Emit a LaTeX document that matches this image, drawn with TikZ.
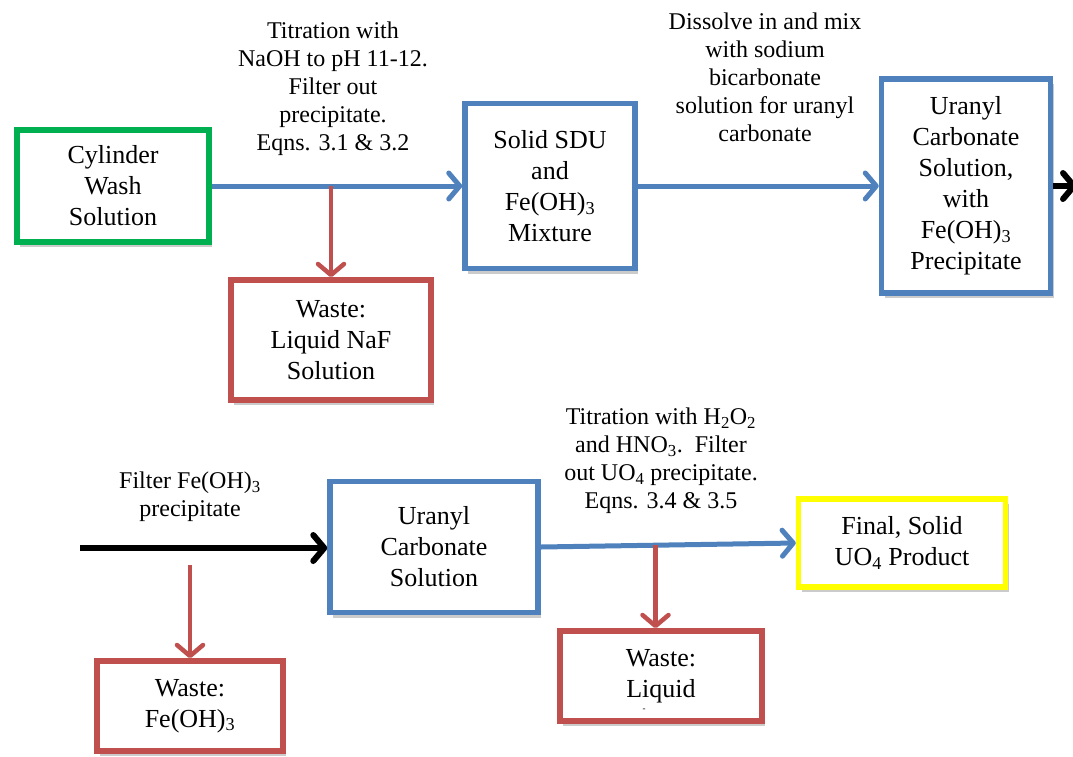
\documentclass[tikz,border=0pt]{standalone}
\usepackage{fontspec}
\setmainfont{Liberation Serif}
\usetikzlibrary{arrows.meta,shadows}
\definecolor{boxblue}{RGB}{79,129,189}
\definecolor{boxred}{RGB}{192,80,77}
\definecolor{boxgreen}{RGB}{0,176,80}
\definecolor{boxyellow}{RGB}{255,255,0}

\begin{document}
\begin{tikzpicture}[x=1pt,y=-1pt,
		stage/.style={draw=boxblue,fill=white,line width=5.5pt,align=center,
			font=\fontsize{26}{31}\selectfont,inner sep=0pt,
			drop shadow={shadow xshift=3pt,shadow yshift=-5pt,opacity=0.45,fill=black!45}},
		waste/.style={stage,draw=boxred},
		lnode/.style={align=center,font=\fontsize{24}{28}\selectfont,inner sep=0pt},
		flow/.style={line width=5pt,draw=boxblue,-{Straight Barb[length=11pt,width=26pt,round]}},
		drain/.style={flow,line width=4.5pt,draw=boxred}]
	\useasboundingbox (0,0) rectangle (1073,756);
	% first stage
	\node[stage,draw=boxgreen,minimum width=192pt,minimum height=112pt] (cyl) at (113,186) {Cylinder\\Wash\\Solution};
	\node[stage,minimum width=170pt,minimum height=165pt] (sdu) at (550,186) {Solid SDU\\and\\Fe(OH)\textsubscript{3}\\Mixture};
	\node[stage,minimum width=169pt,minimum height=214pt] (uc1) at (966,186) {Uranyl\\Carbonate\\Solution,\\with\\Fe(OH)\textsubscript{3}\\Precipitate};
	\node[waste,minimum width=200pt,minimum height=120pt] (naf) at (331,340) {Waste:\\Liquid NaF\\Solution};
	\node[lnode] (titr) at (333,89) {Titration with\\NaOH to pH 11-12.\\Filter out\\precipitate.\\Eqns. 3.1 \& 3.2};
	\node[lnode] (diss) at (765,77) {Dissolve in and mix\\with sodium\\bicarbonate\\solution for uranyl\\carbonate};
	\draw[flow] (cyl) -- (sdu);
	\draw[drain] (naf.north |- cyl.east) -- (naf.north);
	\draw[flow] (sdu) -- (uc1);
	\coordinate (exit) at (1077,186);
	\draw[flow,draw=black,line width=6pt] (uc1.east) -- (exit);
	% second stage
	\node[stage,minimum width=208pt,minimum height=131pt] (uc2) at (434,547) {Uranyl\\Carbonate\\Solution};
	\node[stage,draw=boxyellow,minimum width=207pt,minimum height=88pt] (uo4) at (902,543) {Final, Solid\\UO\textsubscript{4} Product};
	\node[waste,minimum width=186pt,minimum height=90pt] (fe) at (190,706) {Waste:\\Fe(OH)\textsubscript{3}};
	\node[waste,minimum width=202pt,minimum height=90pt] (liq) at (661,676) {Waste:\\Liquid};
	\node[font=\fontsize{9}{10}\selectfont,inner sep=0pt] (cut) at (644,710) {-};
	\node[lnode] (filt) at (190,497) {Filter Fe(OH)\textsubscript{3}\\precipitate};
	\node[lnode] (perox) at (661,461) {Titration with H\textsubscript{2}O\textsubscript{2}\\and HNO\textsubscript{3}.\ \ Filter\\out UO\textsubscript{4} precipitate.\\Eqns. 3.4 \& 3.5};
	\coordinate (feed) at (80,548);
	\coordinate (fesplit) at (190,565);
	\draw[flow,draw=black,line width=6pt] (feed) -- (uc2.west |- feed);
	\draw[drain] (fesplit) -- (fe.north);
	\draw[flow] (uc2.east) -- (uo4.west) coordinate[pos=0.45] (split);
	\draw[drain] (split) -- (split |- liq.north);
\end{tikzpicture}
\end{document}
